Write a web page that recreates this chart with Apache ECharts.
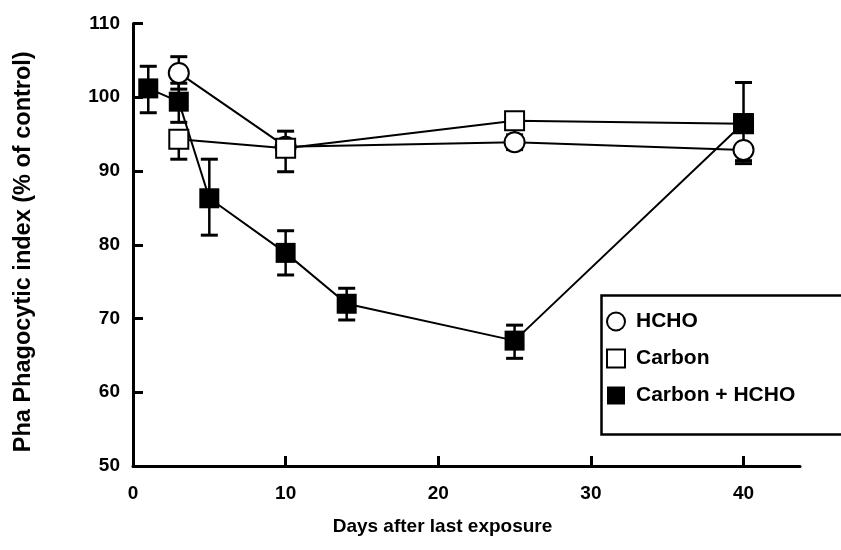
<!DOCTYPE html>
<html>
<head>
<meta charset="utf-8">
<script src="https://cdn.jsdelivr.net/npm/echarts@6/dist/echarts.min.js"></script>
<style>html,body{margin:0;padding:0;background:#fff}#c{width:841px;height:550px}</style>
</head>
<body>
<div id="c"></div>
<script>
// ---- data ----
const hchoDays = [3, 10, 25, 40];
const hchoVals = [103.3, 93.3, 93.9, 92.85];
const hchoLow  = [101.1, 89.9, 92.9, 91.4];
const hchoHigh = [105.5, 95.4, 94.9, 93.4];

const carbonDays = [3, 10, 25, 40];
const carbonVals = [94.3, 93.1, 96.8, 96.4];
const carbonLow  = [91.6, 92.1, 94.3, 95.4];
const carbonHigh = [95.3, 94.1, 97.6, 97.4];

const mixDays = [1, 3, 5, 10, 14, 25, 40];
const mixVals = [101.2, 99.4, 86.3, 78.9, 72.0, 67.0, 96.5];
const mixLow  = [97.9, 96.6, 81.3, 75.9, 69.8, 64.6, 91.0];
const mixHigh = [104.2, 101.9, 91.6, 81.9, 74.1, 69.1, 102.0];

const xTicks = [0, 10, 20, 30, 40];
const yTicks = [50, 60, 70, 80, 90, 100, 110];

const FONT = 'Liberation Sans';
const chart = echarts.init(document.getElementById('c'), null, {renderer: 'canvas'});

function pts(days, vals) { return days.map((d, i) => [d, vals[i]]); }
function errData(days, lo, hi) { return days.map((d, i) => [d, lo[i], hi[i]]); }

function errSeries(name, data) {
  return {
    type: 'custom', name: name + ' err', data: data, z: 3, silent: true,
    renderItem: function (params, api) {
      const x = api.value(0);
      const lo = api.coord([x, api.value(1)]);
      const hi = api.coord([x, api.value(2)]);
      const cw = 8.5;
      return {
        type: 'group',
        children: [
          {type: 'line', shape: {x1: lo[0], y1: lo[1], x2: hi[0], y2: hi[1]}, style: {stroke: '#000', lineWidth: 2.5}},
          {type: 'line', shape: {x1: lo[0] - cw, y1: lo[1], x2: lo[0] + cw, y2: lo[1]}, style: {stroke: '#000', lineWidth: 3}},
          {type: 'line', shape: {x1: hi[0] - cw, y1: hi[1], x2: hi[0] + cw, y2: hi[1]}, style: {stroke: '#000', lineWidth: 3}}
        ]
      };
    }
  };
}

const option = {
  backgroundColor: '#fff',
  animation: false,
  grid: {left: 133, right: 41, top: 23.5, bottom: 84},
  xAxis: {
    type: 'value', min: 0, max: 43.7, interval: 10,
    axisLine: {lineStyle: {color: '#000', width: 3}},
    axisTick: {inside: true, length: 10, lineStyle: {color: '#000', width: 3}, customValues: xTicks},
    axisLabel: {color: '#000', fontFamily: FONT, fontWeight: 'bold', fontSize: 19, margin: 18, customValues: xTicks},
    splitLine: {show: false},
    name: 'Days after last exposure', nameLocation: 'middle', nameGap: 51,
    nameTextStyle: {color: '#000', fontFamily: FONT, fontWeight: 'bold', fontSize: 19, padding: [0, 48, 0, 0]}
  },
  yAxis: {
    type: 'value', min: 50, max: 110, interval: 10,
    axisLine: {lineStyle: {color: '#000', width: 3}},
    axisTick: {inside: true, length: 10, lineStyle: {color: '#000', width: 3}, customValues: yTicks},
    axisLabel: {color: '#000', fontFamily: FONT, fontWeight: 'bold', fontSize: 19, margin: 13, customValues: yTicks},
    splitLine: {show: false},
    name: 'Pha Phagocytic index (% of control)', nameLocation: 'middle', nameGap: 97, nameRotate: 90,
    nameTextStyle: {color: '#000', fontFamily: FONT, fontWeight: 'bold', fontSize: 23.5, padding: [0, 14, 0, 0]}
  },
  legend: {
    orient: 'vertical', left: 601, top: 306, itemWidth: 18, itemHeight: 18, itemGap: 16,
    lineStyle: {opacity: 0},
    textStyle: {color: '#000', fontFamily: FONT, fontWeight: 'bold', fontSize: 21, lineHeight: 21, padding: [0, 0, 0, 6]},
    data: [
      {name: 'HCHO', icon: 'circle', itemStyle: {color: '#fff', borderColor: '#000', borderWidth: 2}},
      {name: 'Carbon', icon: 'rect', itemStyle: {color: '#fff', borderColor: '#000', borderWidth: 2}},
      {name: 'Carbon + HCHO', icon: 'rect', itemStyle: {color: '#000', borderColor: '#000', borderWidth: 0}}
    ]
  },
  graphic: [
    {type: 'rect', left: 599, top: 293, shape: {width: 260, height: 139}, style: {fill: 'none', stroke: '#000', lineWidth: 2.5}, z: 10}
  ],
  series: [
    {
      type: 'line', name: 'HCHO', data: pts(hchoDays, hchoVals), z: 4,
      symbol: 'circle', symbolSize: 20,
      lineStyle: {color: '#000', width: 2},
      itemStyle: {color: '#fff', borderColor: '#000', borderWidth: 2}
    },
    {
      type: 'line', name: 'Carbon', data: pts(carbonDays, carbonVals), z: 4,
      symbol: 'rect', symbolSize: 19,
      lineStyle: {color: '#000', width: 2},
      itemStyle: {color: '#fff', borderColor: '#000', borderWidth: 2}
    },
    {
      type: 'line', name: 'Carbon + HCHO', data: pts(mixDays, mixVals), z: 4,
      symbol: 'rect', symbolSize: 20,
      lineStyle: {color: '#000', width: 2},
      itemStyle: {color: '#000', borderColor: '#000', borderWidth: 0}
    },
    errSeries('HCHO', errData(hchoDays, hchoLow, hchoHigh)),
    errSeries('Carbon', errData(carbonDays, carbonLow, carbonHigh)),
    errSeries('Carbon + HCHO', errData(mixDays, mixLow, mixHigh))
  ]
};
chart.setOption(option);
</script>
</body>
</html>
